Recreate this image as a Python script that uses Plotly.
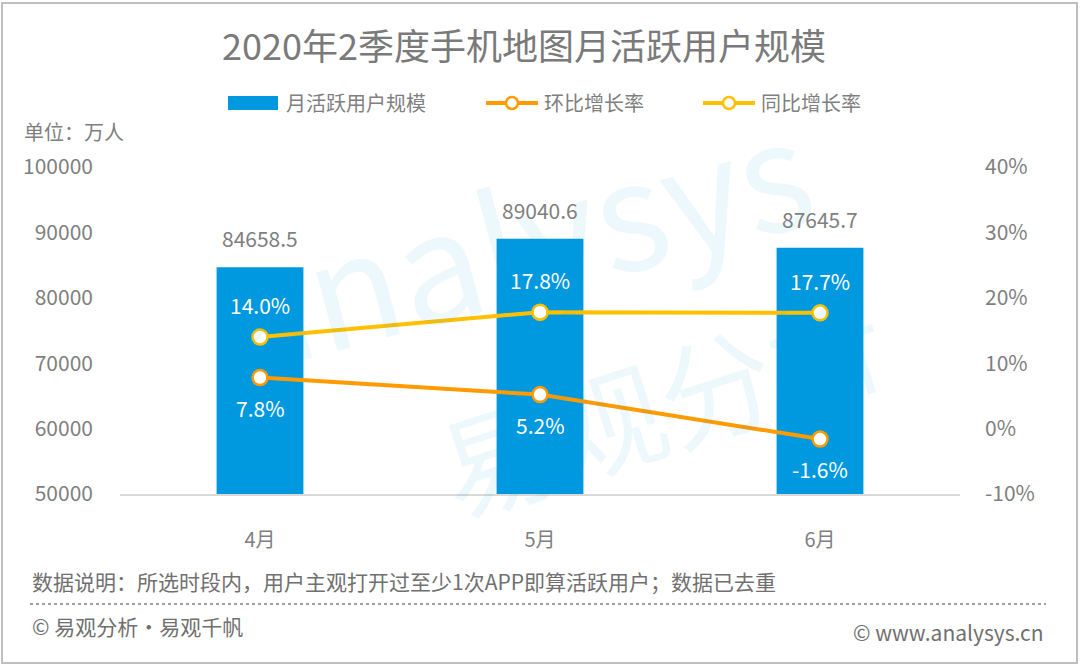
import plotly.graph_objects as go

months = ["4月", "5月", "6月"]
mau = [84658.5, 89040.6, 87645.7]
mom_growth = [7.8, 5.2, -1.6]
yoy_growth = [14.0, 17.8, 17.7]

left_ticks = [50000, 60000, 70000, 80000, 90000, 100000]
right_ticks = [-10, 0, 10, 20, 30, 40]

W, H = 1080, 666
L, R, T, B = 120, 120, 167, 172
PW, PH = W - L - R, H - T - B

BLUE = "#0098DF"
ORANGE = "#FF9A00"
YELLOW = "#FFC000"
GRAY = "#7F7F7F"
DARK = "#707070"
FONT = "Noto Sans CJK SC"


def px(x):
    return (x - L) / PW


def py(y):
    return (H - B - y) / PH


def note(x, y, text, size=20, color=GRAY, anchor="left", **kw):
    return dict(x=px(x), y=py(y), xref="paper", yref="paper", text=text,
                showarrow=False, xanchor=anchor, yanchor="middle",
                font=dict(size=size, color=color, family=FONT), **kw)


fig = go.Figure()

fig.add_trace(go.Bar(
    x=months, y=mau, name="月活跃用户规模",
    marker=dict(color=BLUE, line=dict(width=0)),
    width=0.31, yaxis="y",
))

fig.add_trace(go.Scatter(
    x=months, y=mom_growth, name="环比增长率", yaxis="y2",
    mode="lines+markers",
    line=dict(color=ORANGE, width=4),
    marker=dict(size=15, color="white", line=dict(color=ORANGE, width=2.5)),
))

fig.add_trace(go.Scatter(
    x=months, y=yoy_growth, name="同比增长率", yaxis="y2",
    mode="lines+markers",
    line=dict(color=YELLOW, width=4),
    marker=dict(size=15, color="white", line=dict(color=YELLOW, width=2.5)),
))

annotations = []

# watermark
annotations.append(note(515, 235, "analysys", size=150, anchor="center",
                        color="rgba(0,152,223,0.07)", textangle=-15))
annotations.append(note(660, 400, "易观分析", size=115, anchor="center",
                        color="rgba(0,152,223,0.07)", textangle=-18))

# bar value labels
for m, v in zip(months, mau):
    annotations.append(dict(
        x=m, y=v, xref="x", yref="y", text=f"{v:.1f}", showarrow=False,
        yanchor="middle", yshift=29, font=dict(size=21, color=GRAY, family=FONT),
    ))

# growth labels
for m, v in zip(months, yoy_growth):
    annotations.append(dict(
        x=m, y=v, xref="x", yref="y2", text=f"{v:.1f}%", showarrow=False,
        yanchor="middle", yshift=32, font=dict(size=21, color="white", family=FONT),
    ))
for m, v in zip(months, mom_growth):
    annotations.append(dict(
        x=m, y=v, xref="x", yref="y2", text=f"{v:.1f}%", showarrow=False,
        yanchor="middle", yshift=-30, font=dict(size=21, color="white", family=FONT),
    ))

# title and notes
annotations += [
    note(524, 44, "2020年2季度手机地图月活跃用户规模", size=36, color="#7A7A7A",
         anchor="center"),
    note(22, 131, "单位：万人"),
    note(30, 581, "数据说明：所选时段内，用户主观打开过至少1次APP即算活跃用户；数据已去重",
         size=21, color=DARK),
    note(30, 626, "© 易观分析·易观千帆", size=21, color=DARK),
    note(1046, 632, "© www.analysys.cn", size=21, color=DARK, anchor="right"),
]

# manual legend
legend_y = 103
annotations += [
    note(284, legend_y, "月活跃用户规模"),
    note(542, legend_y, "环比增长率"),
    note(759, legend_y, "同比增长率"),
]

shapes = [
    # outer border
    dict(type="rect", xref="paper", yref="paper",
         x0=px(2), x1=px(1077), y0=py(663), y1=py(3),
         line=dict(color="#BFBFBF", width=2), layer="below"),
    # dotted separator
    dict(type="line", xref="paper", yref="paper",
         x0=px(30), x1=px(1046), y0=py(604), y1=py(604),
         line=dict(color=GRAY, width=1.5, dash="dot")),
    # legend symbols
    dict(type="rect", xref="paper", yref="paper",
         x0=px(228), x1=px(278), y0=py(legend_y + 7), y1=py(legend_y - 7),
         fillcolor=BLUE, line=dict(width=0)),
]
for x0, x1, col in [(486, 538, ORANGE), (703, 755, YELLOW)]:
    shapes.append(dict(type="line", xref="paper", yref="paper",
                       x0=px(x0), x1=px(x1), y0=py(legend_y), y1=py(legend_y),
                       line=dict(color=col, width=4)))
    cx = (x0 + x1) / 2
    shapes.append(dict(type="circle", xref="paper", yref="paper",
                       x0=px(cx - 6), x1=px(cx + 6),
                       y0=py(legend_y + 6), y1=py(legend_y - 6),
                       fillcolor="white", line=dict(color=col, width=2.5)))

fig.update_layout(
    width=W, height=H,
    margin=dict(l=L, r=R, t=T, b=B, autoexpand=False),
    paper_bgcolor="white", plot_bgcolor="white",
    showlegend=False,
    font=dict(family=FONT, color=GRAY, size=20),
    annotations=annotations,
    shapes=shapes,
    xaxis=dict(
        showline=True, linecolor="#D9D9D9", linewidth=2,
        showgrid=False, ticks="", ticklabelstandoff=27,
        tickfont=dict(size=20, color=GRAY),
    ),
    yaxis=dict(
        range=[50000, 100000], tickvals=left_ticks, tickformat="d",
        showgrid=False, zeroline=False, showline=False,
        ticklabelstandoff=26, tickfont=dict(size=21, color=GRAY),
    ),
    yaxis2=dict(
        range=[-10, 40], tickvals=right_ticks,
        ticktext=[f"{t}%" for t in right_ticks],
        overlaying="y", side="right",
        showgrid=False, zeroline=False, showline=False,
        ticklabelstandoff=24, tickfont=dict(size=21, color=GRAY),
    ),
)

fig.write_html("out.html", config={"displayModeBar": False},
               post_script="document.body.style.margin='0';")
